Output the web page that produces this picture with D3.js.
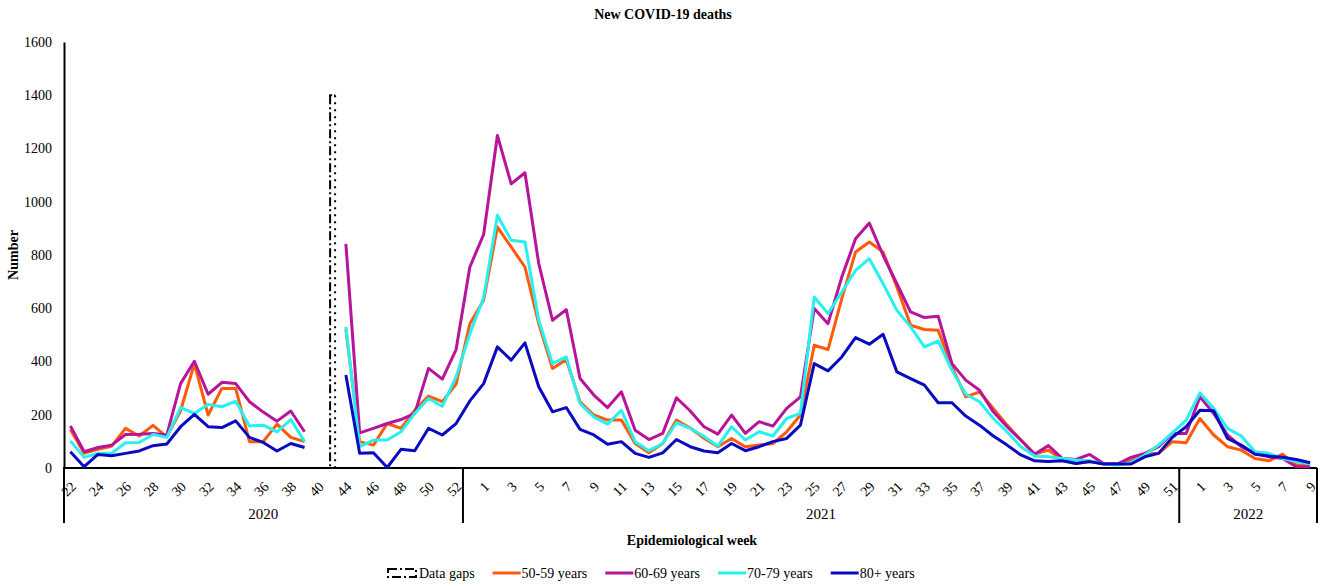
<!DOCTYPE html>
<html>
<head>
<meta charset="utf-8">
<script src="https://cdn.jsdelivr.net/npm/d3@7"></script>
<style>
  body { margin: 0; background: #fff; }
  svg { font-family: "Times New Roman", "Liberation Serif", serif; }
</style>
</head>
<body>
<svg id="chart" width="1325" height="586"></svg>
<script>
// category labels (epi weeks), "" = data gap slot
var weekLabels = [
  "22","23","24","25","26","27","28","29","30","31","32","33","34","35","36","37","38","39","40",
  "",
  "44","45","46","47","48","49","50","51","52","53",
  "1","2","3","4","5","6","7","8","9","10","11","12","13","14","15","16","17","18","19","20",
  "21","22","23","24","25","26","27","28","29","30","31","32","33","34","35","36","37","38","39","40",
  "41","42","43","44","45","46","47","48","49","50","51",
  "52","1","2","3","4","5","6","7","8","9"
];
var yearLabels = ["2020", "2021", "2022"];
var yearSpans = [29, 52, 10];   // nb of categories under each year
var gapIndex = 19;
var gapValue = 1400;
var yTicks = [0, 200, 400, 600, 800, 1000, 1200, 1400, 1600];

var ageGroups = ["50-59 years", "60-69 years", "70-79 years", "80+ years"];
var colors = ["#ff5a0a", "#b8139b", "#27f0f0", "#0a0ac0"];

var deaths5059 = [
  145, 55, 70, 82, 149, 120, 160, 117, 215, 392, 199, 299, 299, 99, 99, 165, 115, 99,
  null, null,
  520, 99, 86, 167, 149, 217, 270, 249, 315, 542,
  630, 905, 830, 755, 542, 374, 407, 249, 199, 180, 180, 92, 57, 92, 180, 150, 112,
  80, 111, 80, 86, 92, 136, 199, 461, 445, 636, 811, 849, 811, 680, 536, 520, 517, 380, 267,
  286, 224, 161, 105, 52, 67, 32, 17, 24, 17, 15, 30, 52, 55, 99, 95, 186, 124, 80, 67, 36, 27, 52, 11, 11
];
var deaths6069 = [
  158, 61, 77, 86, 126, 127, 130, 124, 317, 401, 277, 322, 317, 249, 210, 176, 214, 136,
  null, null,
  842, 132, 149, 167, 182, 205, 374, 334, 445, 755,
  877, 1249, 1067, 1109, 768, 555, 595, 336, 274, 227, 286, 142, 107, 130, 264, 214, 155,
  127, 199, 130, 174, 157, 224, 267, 599, 542, 717, 861, 920, 799, 692, 586, 565, 570, 392, 330,
  292, 211, 155, 105, 52, 84, 36, 32, 51, 17, 15, 40, 55, 80, 130, 130, 267, 205, 124, 80, 55, 42, 36, 5, 5
];
var deaths7079 = [
  102, 40, 55, 55, 95, 96, 126, 115, 227, 205, 239, 230, 251, 158, 161, 136, 182, 99,
  null, null,
  530, 80, 105, 105, 136, 205, 261, 232, 342, 505,
  640, 949, 855, 849, 555, 392, 417, 242, 192, 165, 217, 99, 65, 92, 170, 149, 118,
  82, 155, 105, 136, 120, 186, 205, 642, 580, 661, 742, 786, 692, 592, 530, 455, 477, 367, 277,
  249, 186, 136, 80, 45, 42, 36, 30, 27, 15, 11, 20, 49, 86, 132, 180, 282, 224, 149, 120, 61, 55, 36, 24, 15
];
var deaths80 = [
  61, 5, 51, 46, 55, 64, 84, 90, 155, 201, 155, 152, 177, 115, 96, 64, 92, 77,
  null, null,
  349, 55, 57, 2, 70, 65, 149, 124, 167, 252,
  317, 455, 405, 470, 305, 211, 227, 145, 124, 89, 99, 55, 40, 57, 107, 80, 64,
  57, 92, 65, 80, 99, 111, 161, 392, 365, 417, 490, 465, 502, 361, 336, 311, 245, 245, 195,
  161, 120, 86, 49, 27, 24, 27, 17, 24, 15, 15, 15, 42, 55, 115, 155, 217, 215, 111, 86, 52, 45, 40, 32, 20
];
var series = [deaths5059, deaths6069, deaths7079, deaths80];

var svg = d3.select('#chart');
var plotLeft = 63.5, plotRight = 1317, plotTop = 42, plotBottom = 468;

var x = d3.scaleBand().domain(d3.range(weekLabels.length)).range([plotLeft, plotRight]).padding(0);
var y = d3.scaleLinear().domain([0, 1600]).range([plotBottom, plotTop]);
var cx = function(i){ return x(i) + x.bandwidth() / 2; };

// title + axis titles
svg.append('text').attr('x', 663).attr('y', 19).attr('text-anchor', 'middle')
  .attr('font-size', 14).attr('font-weight', 'bold').text('New COVID-19 deaths');
svg.append('text').attr('transform', 'translate(18,255) rotate(-90)').attr('text-anchor', 'middle')
  .attr('font-size', 14).attr('font-weight', 'bold').text('Number');
svg.append('text').attr('x', 692).attr('y', 545).attr('text-anchor', 'middle')
  .attr('font-size', 14).attr('font-weight', 'bold').text('Epidemiological week');

// y axis
var yAxis = svg.append('g').attr('transform', 'translate(64,0)')
  .call(d3.axisLeft(y).tickValues(yTicks).tickSize(0).tickPadding(12).tickFormat(d3.format('d')));
yAxis.select('.domain').attr('stroke', '#000').attr('stroke-width', 2);
yAxis.selectAll('text').attr('font-size', 14).attr('font-family', '"Times New Roman","Liberation Serif",serif');

// x axis line
svg.append('line').attr('x1', 63).attr('x2', plotRight).attr('y1', plotBottom).attr('y2', plotBottom)
  .attr('stroke', '#000').attr('stroke-width', 2);

// week labels (every other category)
svg.append('g').selectAll('text')
  .data(weekLabels.map(function(d, i){ return {label: d, i: i}; })
    .filter(function(d){ return d.i % 2 === 0 && d.label !== ''; }))
  .enter().append('text')
  .attr('transform', function(d){ return 'translate(' + (cx(d.i) + 3) + ',' + (plotBottom + 16) + ') rotate(-45)'; })
  .attr('text-anchor', 'end').attr('dy', '0.35em')
  .attr('font-size', 14)
  .text(function(d){ return d.label; });

// year groups
var start = 0;
yearLabels.forEach(function(yr, k){
  var x0 = x(start), x1 = x(start + yearSpans[k] - 1) + x.bandwidth();
  svg.append('text').attr('x', (x0 + x1) / 2).attr('y', 519).attr('text-anchor', 'middle')
    .attr('font-size', 15).text(yr);
  start += yearSpans[k];
});
var seps = [0];
yearSpans.reduce(function(a, b){ seps.push(a + b); return a + b; }, 0);
svg.append('g').selectAll('line').data(seps).enter().append('line')
  .attr('x1', function(d){ return d === weekLabels.length ? plotRight : Math.max(64, x(d)); })
  .attr('x2', function(d){ return d === weekLabels.length ? plotRight : Math.max(64, x(d)); })
  .attr('y1', plotBottom).attr('y2', 523)
  .attr('stroke', '#000').attr('stroke-width', 2);

// data gap bar
var gx = cx(gapIndex) - 2;
svg.append('line').attr('x1', gx).attr('x2', gx).attr('y1', y(gapValue)).attr('y2', plotBottom)
  .attr('stroke', '#000').attr('stroke-width', 2).attr('stroke-dasharray', '9,3,2,3');
svg.append('line').attr('x1', gx + 5).attr('x2', gx + 5).attr('y1', y(gapValue)).attr('y2', plotBottom)
  .attr('stroke', '#000').attr('stroke-width', 2).attr('stroke-dasharray', '2,5');
svg.append('line').attr('x1', gx - 1).attr('x2', gx + 5).attr('y1', y(gapValue)).attr('y2', y(gapValue))
  .attr('stroke', '#000').attr('stroke-width', 2).attr('stroke-dasharray', '3,2');

// lines
var line = d3.line()
  .defined(function(d){ return d != null; })
  .x(function(d, i){ return cx(i); })
  .y(function(d){ return y(d); });

svg.append('g').selectAll('path').data(series).enter().append('path')
  .attr('d', line)
  .attr('fill', 'none')
  .attr('stroke', function(d, k){ return colors[k]; })
  .attr('stroke-width', 3)
  .attr('stroke-linejoin', 'round');

// legend
var lg = svg.append('g').attr('font-size', 14);
var lx = 388, ly = 573;
lg.append('rect').attr('x', lx).attr('y', ly - 4).attr('width', 28).attr('height', 8)
  .attr('fill', 'none').attr('stroke', '#000').attr('stroke-width', 2).attr('stroke-dasharray', '9,3,2,3');
var t = lg.append('text').attr('x', lx + 31).attr('y', ly + 5).text('Data gaps');
lx = lx + 31 + t.node().getComputedTextLength() + 18;
ageGroups.forEach(function(name, k){
  lg.append('line').attr('x1', lx).attr('x2', lx + 28).attr('y1', ly).attr('y2', ly)
    .attr('stroke', colors[k]).attr('stroke-width', 3);
  var tt = lg.append('text').attr('x', lx + 29).attr('y', ly + 5).text(name);
  lx = lx + 29 + tt.node().getComputedTextLength() + 18;
});
</script>
</body>
</html>
